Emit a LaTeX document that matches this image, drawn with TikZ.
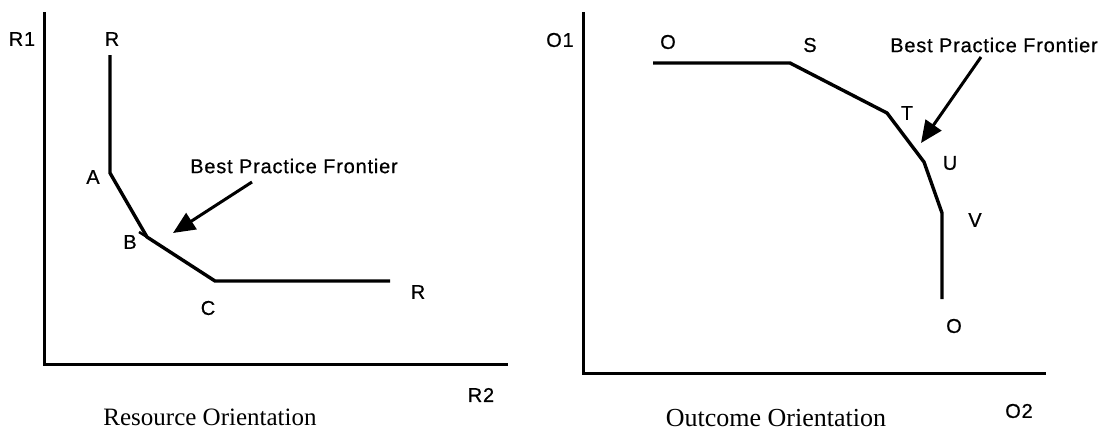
\documentclass[tikz,border=0pt]{standalone}
\usepackage{fontspec}
\newfontfamily\labfont{Liberation Sans}[LetterSpace=4,FakeBold=0.6]
\newfontfamily\titlefont{Liberation Serif}
\usetikzlibrary{arrows.meta}
\begin{document}
\begin{tikzpicture}[x=1pt,y=-1pt,
  axis/.style={line width=3pt,line cap=rect},
  frontier/.style={line width=3.4pt,line join=miter},
  pointer/.style={line width=3pt,-{Triangle[length=22pt,width=19pt]}},
  lbl/.style={inner sep=0pt,font=\labfont\fontsize{20}{22}\selectfont},
  ttl/.style={inner sep=0pt,anchor=base}]
\useasboundingbox (0,0) rectangle (1103,432);
% ---------- left plot ----------
\coordinate (ly0) at (44,13);
\coordinate (lo) at (44,364);
\coordinate (lx1) at (506,364);
\draw[axis] (ly0) -- (lo) -- (lx1);
\coordinate (r0) at (110,55);
\coordinate (pA) at (110,173);
\coordinate (pB) at (147,237);
\coordinate (pC) at (215,281);
\coordinate (r1) at (390,281);
\draw[frontier] (r0) -- (pA) -- (pB) -- (pC) -- (r1);
\draw[line width=2.5pt] (pB) -- (139,232);
\node[lbl] (lR1) at (22,39) {R1};
\node[lbl] (lRtop) at (112,39) {R};
\node[lbl] (lA) at (93,177) {A};
\node[lbl] (lB) at (130,242) {B};
\node[lbl] (lC) at (208,308) {C};
\node[lbl] (lRr) at (418,292) {R};
\node[lbl] (lR2) at (481,395) {R2};
\node[lbl] (lbpf) at (294,166) {Best Practice Frontier};
\coordinate (la0) at (252,182);
\coordinate (la1) at (173,233);
\draw[pointer] (la0) -- (la1);
\node[ttl,font=\titlefont\fontsize{25}{28}\selectfont] (lt) at (210,425) {Resource Orientation};
% ---------- right plot ----------
\coordinate (ry0) at (583,13);
\coordinate (ro) at (583,373);
\coordinate (rx1) at (1044,373);
\draw[axis] (ry0) -- (ro) -- (rx1);
\coordinate (o0) at (653,63);
\coordinate (pS) at (790,63);
\coordinate (pT) at (887,113);
\coordinate (pU) at (924,162);
\coordinate (pV) at (942,213);
\coordinate (o1) at (942,299);
\draw[frontier] (o0) -- (pS) -- (pT) -- (pU) -- (pV) -- (o1);
\node[lbl] (lO1) at (560,40) {O1};
\node[lbl] (lOtop) at (668,42) {O};
\node[lbl] (lS) at (810,45) {S};
\node[lbl] (lT) at (907,113) {T};
\node[lbl] (lU) at (950,163) {U};
\node[lbl] (lV) at (975,220) {V};
\node[lbl] (lObot) at (954,326) {O};
\node[lbl] (lO2) at (1019,411) {O2};
\node[lbl] (rbpf) at (994,45) {Best Practice Frontier};
\coordinate (ra0) at (981,57);
\coordinate (ra1) at (921,143);
\draw[pointer] (ra0) -- (ra1);
\node[ttl,font=\titlefont\fontsize{26}{29}\selectfont] (rt) at (776,426) {Outcome Orientation};
\end{tikzpicture}
\end{document}
